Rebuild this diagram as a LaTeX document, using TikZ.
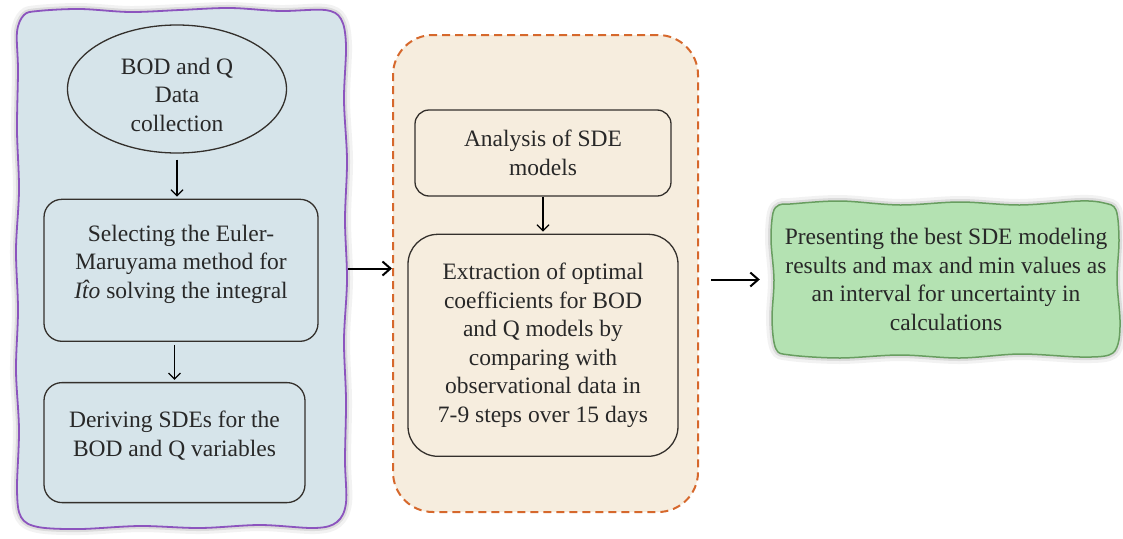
\documentclass[tikz,border=0pt]{standalone}
\usepackage{fontspec}
\setmainfont{Liberation Serif}
\usetikzlibrary{positioning}
\usetikzlibrary{shapes.geometric}
\usetikzlibrary{arrows.meta}
\definecolor{panelblue}{RGB}{214,228,234}
\definecolor{panelpurple}{RGB}{140,84,190}
\definecolor{panelcream}{RGB}{246,237,222}
\definecolor{panelorange}{RGB}{214,104,44}
\definecolor{resultgreen}{RGB}{180,226,178}
\definecolor{resultline}{RGB}{104,158,96}
\definecolor{boxline}{RGB}{52,48,44}
\definecolor{inktext}{RGB}{40,40,40}
\tikzset {
  % soft grey glow behind the wavy panels
  glow/.style={preaction={draw=black!20, line width=12pt, opacity=.25},
               preaction={draw=black!30, line width=6pt, opacity=.35}},
  % hand drawn outline
  wavy/.style={glow, line width=1.8pt, smooth cycle, tension=0.55},
  % first column panel (only a frame for anchors, the outline is drawn by hand)
  leftpanel/.style={minimum width=329pt, minimum height=517pt},
  % second column panel
  midpanel/.style={draw=panelorange, fill=panelcream, line width=2pt, rounded corners=40pt,
                   dash pattern=on 8pt off 5pt, minimum width=305pt, minimum height=477pt},
  % outlined steps
  stepbox/.style={draw=boxline, line width=1.3pt, rounded corners=18pt, align=center, inner sep=0pt},
  startoval/.style={draw=boxline, line width=1.3pt, ellipse, align=center, inner sep=0pt,
                    minimum width=219pt, minimum height=128pt},
  % final result cloud
  resultbox/.style={align=center, minimum width=348pt, minimum height=155pt, inner sep=0pt},
  flow/.style={-{Straight Barb[length=6pt, width=12pt]}, line width=1.3pt},
  bigflow/.style={-{Straight Barb[length=8pt, width=14pt]}, line width=2pt},
}

\begin{document}
\begin{tikzpicture}[x=1pt, y=1pt, font=\fontsize{23.5}{28.5}\selectfont, text=inktext]
  \useasboundingbox (0,0) rectangle (1123,-538);

  % panels
  \draw[wavy, draw=panelpurple, fill=panelblue] plot coordinates {
    (38,-11) (80,-9) (130,-12) (180,-10) (230,-8) (280,-11) (325,-10) (341,-19)
    (346,-45) (344,-100) (347,-160) (345,-220) (347,-280) (344,-340) (346,-400) (345,-460) (346,-503)
    (337,-522) (315,-528) (260,-525) (200,-528) (140,-526) (80,-529) (38,-527) (21,-517)
    (17,-490) (19,-430) (16,-370) (18,-310) (16,-250) (19,-190) (17,-130) (18,-70) (17,-32) (24,-15)};
  \node[leftpanel] (leftbox) at (181.5,-268.5) {};
  \node[midpanel] (midbox) at (545.5,-273.5) {};

  % first column
  \node[startoval] (collect) at (177,-89) {\rule{0pt}{28pt}BOD and Q\\Data\\collection};
  \node[stepbox, minimum width=274pt, minimum height=142pt] (select) [below=45pt of collect, xshift=4pt]
    {Selecting the Euler-\\Maruyama method for\\\textit{I\smash{\^{t}}o} solving the integral\\[-11pt]};
  \node[stepbox, minimum width=261pt, minimum height=120pt] (derive) [below=40pt of select, xshift=-6.5pt]
    {Deriving SDEs for the\\BOD and Q variables\\[-11pt]};

  % second column
  \node[stepbox, rounded corners=14pt, minimum width=256pt, minimum height=86pt] (analysis) at (543,-153)
    {Analysis of SDE\\models};
  \node[stepbox, rounded corners=30pt, minimum width=270pt, minimum height=222pt] (extract) [below=37pt of analysis]
    {Extraction of optimal\\coefficients for BOD\\and Q models by\\comparing with\\observational data in\\7-9 steps over 15 days};

  % result
  \draw[wavy, line width=1.5pt, draw=resultline, fill=resultgreen] plot coordinates {
    (790,-204) (840,-201) (900,-205) (960,-202) (1020,-205) (1080,-201) (1104,-203) (1116,-210)
    (1119,-240) (1117,-280) (1120,-320) (1118,-344) (1109,-355)
    (1080,-357) (1020,-354) (960,-358) (900,-355) (840,-358) (790,-355) (776,-349)
    (772,-320) (774,-280) (771,-240) (773,-213) (779,-205)};
  \node[resultbox] (result) at (946,-279.5)
    {Presenting the best SDE modeling\\results and max and min values as\\an interval for uncertainty in\\calculations};

  \draw[flow, shorten <=6pt, shorten >=2pt] (collect.south) -- (collect.south |- select.north);
  \draw[flow, shorten <=3pt, shorten >=2pt] (derive.north |- select.south) -- (derive.north);
  \draw[flow, shorten >=2pt] (analysis.south) -- (extract.north);
  \draw[bigflow, shorten <=2pt] (leftbox.east) -- (leftbox.east -| midbox.west);
  \draw[bigflow, shorten <=12pt, shorten >=12pt] (midbox.east |- result.west) -- (result.west);
\end{tikzpicture}
\end{document}
